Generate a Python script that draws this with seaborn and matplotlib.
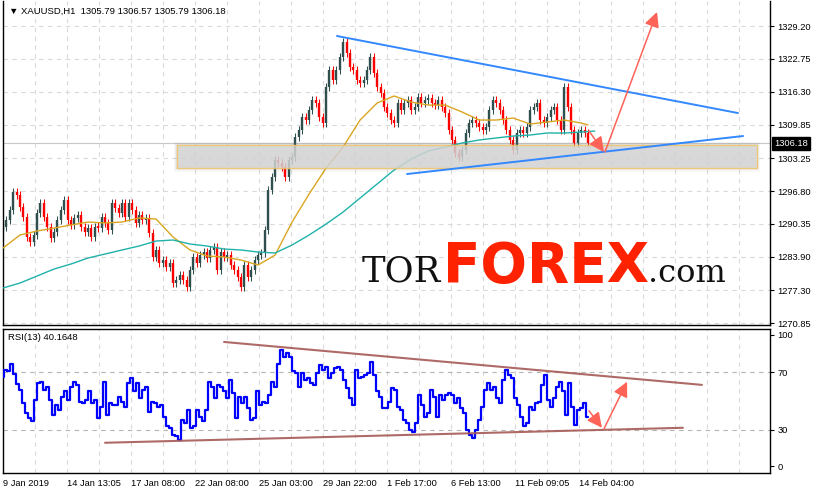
import numpy as np
import pandas as pd
import matplotlib
matplotlib.use("Agg")
import matplotlib.pyplot as plt
import seaborn as sns
from matplotlib.patches import Rectangle

# ---------------- data ----------------
closes = [
    1289.75, 1291.12, 1293.09, 1296.62, 1296.03, 1293.68, 1291.71, 1287.79, 1286.81, 1288.18,
    1292.50, 1294.46, 1291.71, 1289.75, 1287.59, 1288.77, 1291.12, 1293.09, 1295.05, 1291.12,
    1290.14, 1291.52, 1292.11, 1289.75, 1288.77, 1289.55, 1287.79, 1289.75, 1289.55, 1291.71,
    1290.54, 1289.16, 1294.46, 1293.48, 1292.50, 1294.46, 1291.71, 1294.46, 1293.09, 1290.54,
    1292.11, 1291.12, 1291.52, 1288.57, 1283.86, 1285.24, 1282.68, 1283.27, 1281.90, 1282.68,
    1278.76, 1279.35, 1280.33, 1279.35, 1277.97, 1281.31, 1283.86, 1282.68, 1284.25, 1284.84,
    1283.67, 1285.24, 1285.82, 1281.31, 1284.84, 1283.86, 1284.25, 1282.29, 1281.31, 1279.94,
    1277.97, 1282.29, 1279.94, 1281.31, 1283.27, 1284.25, 1284.65, 1289.16, 1297.01, 1299.56,
    1302.90, 1302.31, 1301.53, 1299.56, 1302.90, 1303.49, 1307.41, 1308.79, 1311.34, 1310.75,
    1312.71, 1314.68, 1314.09, 1311.34, 1310.16, 1317.23, 1320.56, 1318.60, 1320.56, 1323.12,
    1326.06, 1323.90, 1321.15, 1320.56, 1318.60, 1318.01, 1318.60, 1320.56, 1323.12, 1319.97,
    1317.23, 1316.05, 1313.30, 1312.12, 1310.75, 1310.16, 1314.09, 1312.71, 1314.09, 1314.68,
    1312.71, 1313.30, 1315.27, 1314.09, 1314.68, 1315.07, 1314.09, 1313.69, 1314.68, 1313.30,
    1312.12, 1308.79, 1306.83, 1304.27, 1303.49, 1304.86, 1308.20, 1310.16, 1310.75, 1310.16,
    1309.38, 1308.79, 1309.38, 1312.71, 1314.68, 1314.09, 1312.71, 1310.75, 1308.79, 1306.83,
    1304.86, 1308.20, 1308.79, 1308.20, 1309.38, 1312.71, 1313.30, 1314.09, 1310.75, 1310.16,
    1311.34, 1312.71, 1313.30, 1310.75, 1308.79, 1317.23, 1313.30, 1308.79, 1306.24, 1308.20,
    1308.79, 1308.20, 1306.18,
]

ma_fast_bars = list(range(0, 171, 5)) + [172]
ma_fast = [
    1285.63, 1288.18, 1288.97, 1289.55, 1290.14, 1290.73, 1290.54, 1290.73, 1291.52, 1291.32,
    1287.79, 1285.24, 1284.06, 1283.86, 1283.27, 1282.29, 1284.25, 1290.73, 1296.23, 1301.33,
    1305.45, 1310.75, 1314.09, 1315.46, 1314.28, 1313.69, 1313.69, 1312.32, 1310.75, 1310.75,
    1311.14, 1309.97, 1310.36, 1310.75, 1310.16, 1309.77,
]
ma_slow_bars = list(range(0, 171, 5)) + [174]
ma_slow = [
    1277.78, 1278.76, 1280.13, 1281.50, 1282.49, 1283.67, 1284.45, 1285.24, 1286.02, 1287.00,
    1287.20, 1286.41, 1286.02, 1285.43, 1285.24, 1284.84, 1284.65, 1286.22, 1288.18, 1290.34,
    1292.69, 1295.44, 1298.19, 1300.94, 1303.10, 1304.67, 1305.45, 1306.24, 1306.83, 1307.22,
    1307.61, 1307.81, 1308.20, 1308.20, 1308.39, 1308.59,
]

rsi = [
    67.0, 71.6, 70.5, 76.0, 69.0, 62.0, 57.7, 48.5, 41.6, 38.0,
    35.8, 50.8, 62.4, 63.5, 57.7, 60.0, 50.8, 40.4, 47.3, 43.9,
    53.0, 56.6, 50.8, 60.0, 63.5, 61.2, 49.6, 48.5, 50.8, 56.6,
    48.5, 50.8, 38.0, 46.0, 63.5, 40.4, 48.5, 47.3, 47.3, 53.0,
    49.6, 46.0, 62.4, 65.8, 56.6, 62.4, 52.0, 57.7, 60.0, 42.7,
    49.6, 48.5, 46.0, 47.3, 39.2, 32.3, 31.2, 26.5, 25.4, 23.0,
    37.0, 34.6, 43.9, 31.2, 32.3, 43.9, 39.2, 35.8, 43.9, 63.5,
    60.0, 52.0, 61.2, 60.0, 56.6, 52.0, 64.7, 55.4, 38.0, 53.0,
    48.5, 53.0, 45.0, 37.0, 38.0, 56.6, 47.3, 49.6, 48.5, 54.3,
    63.5, 60.0, 76.0, 85.5, 80.9, 83.2, 80.9, 70.5, 69.3, 60.0,
    69.3, 64.7,
    65.8, 62.4, 61.2, 69.3, 75.0, 71.6, 73.9, 65.8, 69.3, 72.8,
    73.9, 71.6, 64.7, 58.9, 52.0, 47.3, 71.6, 65.8, 67.0, 68.1,
    69.3, 77.4, 68.1, 56.6, 53.0, 45.0, 45.0, 49.6, 58.9, 57.7,
    46.0, 43.9, 37.0, 34.6, 30.0, 28.8, 34.6, 54.3, 47.3, 39.2,
    41.6, 57.7, 53.0, 39.2, 54.3, 50.8, 54.3, 55.4, 54.3, 48.5,
    52.0, 45.0, 41.6, 30.0, 26.5, 24.2, 30.0, 37.0, 46.0, 57.7,
    62.4, 57.7, 60.0, 52.0, 48.5, 64.7, 71.6, 68.1, 65.8, 52.0,
    47.3, 39.2, 32.3, 34.6, 46.0, 43.9, 48.5, 49.6, 61.2, 68.1,
    50.8, 46.0, 52.0, 60.0, 63.5, 56.6, 40.4, 62.4, 46.0, 33.5,
    43.9, 45.0, 48.5, 39.2,
]

price_ticks = [1329.20, 1322.75, 1316.30, 1309.85, 1303.25, 1296.80, 1290.35, 1283.90, 1277.30, 1270.85]
price_tick_labels = ["1329.20", "1322.75", "1316.30", "1309.85", "1303.25", "1296.80",
                     "1290.35", "1283.90", "1277.30", "1270.85"]
time_labels = ["9 Jan 2019", "14 Jan 13:05", "17 Jan 08:00", "22 Jan 08:00", "25 Jan 03:00",
               "29 Jan 22:00", "1 Feb 17:00", "6 Feb 13:00", "11 Feb 09:05", "14 Feb 04:00"]
rsi_levels = [70, 30]

last_price = 1306.18
zone_bars = [51.2, 221.7]
zone_prices = [1301.27, 1305.79]
upper_trend = ([98.2, 216.1], [1327.24, 1312.12])
lower_trend = ([118.8, 217.6], [1300.15, 1307.61])
arrow_down = ([172.3, 176.7], [1308.59, 1304.47])
arrow_up = ([177.0, 192.3], [1304.47, 1331.95])
rsi_upper_trend = ([65.0, 205.5], [91.0, 61.2])
rsi_lower_trend = ([30.0, 199.9], [21.0, 31.4])
rsi_arrow_down = ([172.3, 176.1], [43.2, 31.4])
rsi_arrow_up = ([176.7, 183.5], [30.7, 63.4])

# ---------------- styling ----------------
sns.set_style("white")
plt.rcParams["font.family"] = ["Liberation Sans", "DejaVu Sans"]

W, H = 815, 494
PX = 3.401          # pixels per bar
WICK = 0.75         # visual wick extension (price units)
fig = plt.figure(figsize=(W / 100, H / 100), dpi=100)


def frac_box(l, t, r, b):
    return [l / W, 1 - b / H, (r - l) / W, (b - t) / H]


ax = fig.add_axes(frac_box(2.5, 1, 770, 325))
axr = fig.add_axes(frac_box(2.5, 329, 770, 473))

x_left = (2.5 - 3) / PX
x_right = (770 - 3) / PX
grid_bars = [(35 + 32 * k - 3) / PX for k in range(23)]
label_bars = [(64 * k) / PX for k in range(len(time_labels))]

GRID = "#DADADA"
for a in (ax, axr):
    a.set_xlim(x_left, x_right)
    for g in grid_bars:
        a.axvline(g, color=GRID, lw=0.8, ls=(0, (4, 4)), zorder=0)
    for s in a.spines.values():
        s.set_color("black")
        s.set_linewidth(1.0)

# ---------------- price panel ----------------
df = pd.DataFrame({"bar": np.arange(len(closes)), "close": closes})
df["open"] = df["close"].shift(1).fillna(df["close"].iloc[0] - 0.5)
up = (df["close"] >= df["open"]).values
lo = df[["open", "close"]].min(axis=1).values
hi = df[["open", "close"]].max(axis=1).values
hi = np.maximum(hi, lo + 0.35)
bars = df["bar"].values
for mask, col in ((up, "#2F4F4F"), (~up, "#FF0000")):
    ax.vlines(bars[mask], lo[mask] - WICK, hi[mask] + WICK, colors=col, lw=0.75, zorder=2)
    ax.vlines(bars[mask], lo[mask], hi[mask], colors=col, lw=1.7, zorder=2)

sns.lineplot(x=ma_fast_bars, y=ma_fast, ax=ax, color="#DAA520", lw=1.0, zorder=3,
             estimator=None, sort=False)
sns.lineplot(x=ma_slow_bars, y=ma_slow, ax=ax, color="#20B2AA", lw=1.0, zorder=3,
             estimator=None, sort=False)

for p in price_ticks:
    ax.axhline(p, color=GRID, lw=0.8, ls=(0, (4, 4)), zorder=0)
ax.axhline(last_price, color="#C8C8C8", lw=0.8, zorder=1)

# support zone with soft shadow
zw = zone_bars[1] - zone_bars[0]
zh = zone_prices[1] - zone_prices[0]
for i, al in enumerate([0.06, 0.08, 0.10]):
    d = (3 - i) * 0.35
    ax.add_patch(Rectangle((zone_bars[0] - d * 0.9, zone_prices[0] - d * 0.6),
                           zw + d * 1.8, zh + d * 1.2, facecolor="#808080",
                           edgecolor="none", alpha=al, zorder=4))
ax.add_patch(Rectangle((zone_bars[0], zone_prices[0]), zw, zh, facecolor="#D6D6D6",
                       edgecolor="#F2C462", lw=1.0, alpha=0.82, zorder=4))

ax.plot(*upper_trend, color="#3388FF", lw=1.4, zorder=5)
ax.plot(*lower_trend, color="#3388FF", lw=1.4, zorder=5)

ARROW = "#FF6358"
for arr in (arrow_down, arrow_up):
    ax.annotate("", xy=(arr[0][1], arr[1][1]), xytext=(arr[0][0], arr[1][0]),
                arrowprops=dict(arrowstyle="-|>,head_length=0.9,head_width=0.45",
                                color=ARROW, lw=1.1, shrinkA=0, shrinkB=0),
                zorder=6)

ax.set_ylim(1270.52, 1334.11)
ax.yaxis.tick_right()
ax.set_yticks(price_ticks)
ax.set_yticklabels(price_tick_labels)
ax.tick_params(axis="y", direction="out", length=3, width=0.8, pad=2.5,
               labelsize=6.7, colors="black")
ax.set_xticks([])
ax.spines["top"].set_visible(False)

ax.annotate(f"{last_price:.2f}", xy=(1.0, last_price), xycoords=("axes fraction", "data"),
            xytext=(3.2, 0), textcoords="offset points", ha="left", va="center",
            color="white", fontsize=6.7,
            bbox=dict(boxstyle="square,pad=0.22", fc="black", ec="black"))

ax.text(6 / 767, 1 - 10 / 324, "▼ XAUUSD,H1  1305.79 1306.57 1305.79 1306.18",
        transform=ax.transAxes, ha="left", va="center", fontsize=6.8, color="black",
        family=["Liberation Sans", "DejaVu Sans"])

# ---------------- RSI panel ----------------
rsi_bars = np.linspace(0, len(closes) - 1, len(rsi))
sns.lineplot(x=rsi_bars, y=rsi, ax=axr, color="#0000FF", lw=1.6, zorder=3,
             estimator=None, sort=False, drawstyle="steps-mid")
for lv in rsi_levels:
    axr.axhline(lv, color="#B4B4B4", lw=0.8, ls=(0, (4, 4)), zorder=0)

RSI_TL = "#A55A55"
axr.plot(*rsi_upper_trend, color=RSI_TL, lw=1.5, alpha=0.9, zorder=4)
axr.plot(*rsi_lower_trend, color=RSI_TL, lw=1.5, alpha=0.9, zorder=4)
for arr in (rsi_arrow_down, rsi_arrow_up):
    axr.annotate("", xy=(arr[0][1], arr[1][1]), xytext=(arr[0][0], arr[1][0]),
                 arrowprops=dict(arrowstyle="-|>,head_length=0.9,head_width=0.45",
                                 color=ARROW, lw=1.1, shrinkA=0, shrinkB=0),
                 zorder=6)

axr.set_ylim(0, 100)
axr.yaxis.tick_right()
axr.set_yticks([95.9, 70, 30, 4.6])
axr.set_yticklabels(["100", "70", "30", "0"])
axr.tick_params(axis="y", direction="out", length=3, width=0.8, pad=2.5,
                labelsize=6.7, colors="black")
axr.set_xticks(label_bars)
axr.set_xticklabels(time_labels, ha="left")
axr.tick_params(axis="x", direction="out", length=3, width=0.8, pad=1.5,
                labelsize=6.7, colors="black")
axr.set_xlabel("")
axr.set_ylabel("")
ax.set_xlabel("")
ax.set_ylabel("")

axr.text(5 / 767, 1 - 8 / 144, "RSI(13) 40.1648", transform=axr.transAxes,
         ha="left", va="center", fontsize=6.8, color="black")

# ---------------- watermark ----------------
base = 1 - 282 / H
fig.text(362 / W, base, "TOR", ha="left", va="baseline", fontsize=25.5,
         family="DejaVu Serif", color="#111111", zorder=1)
fig.text(443 / W, base, "FOREX", ha="left", va="baseline", fontsize=39.5,
         family="DejaVu Sans", weight="bold", color="#FF2200", zorder=1)
fig.text(648 / W, base, ".com", ha="left", va="baseline", fontsize=23,
         family="DejaVu Serif", color="#111111", zorder=1)

fig.savefig("out.png", dpi=100)
